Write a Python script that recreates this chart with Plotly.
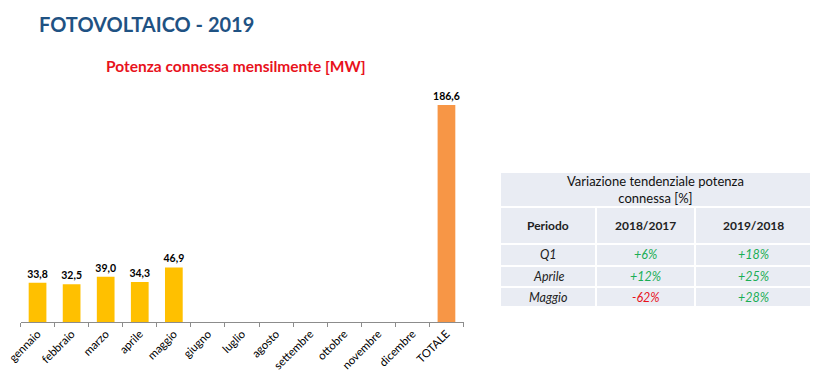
import plotly.graph_objects as go

W, H = 814, 372

months = ["gennaio", "febbraio", "marzo", "aprile", "maggio", "giugno", "luglio",
          "agosto", "settembre", "ottobre", "novembre", "dicembre", "TOTALE"]
values = [33.8, 32.5, 39.0, 34.3, 46.9, None, None, None, None, None, None, None, 186.6]
bar_colors = ["#FFC000"] * 12 + ["#F79646"]

table_title = "Variazione tendenziale potenza<br>connessa [%]"
table_cols = ["Periodo", "2018/2017", "2019/2018"]
periods = ["Q1", "Aprile", "Maggio"]
var_1817 = ["+6%", "+12%", "-62%"]
var_1918 = ["+18%", "+25%", "+28%"]

FONT = "Lato"

def px(x):
    return x / W

def py(y):
    return 1 - y / H

fig = go.Figure()
fig.add_trace(go.Bar(
    x=months, y=values,
    marker=dict(color=bar_colors, line=dict(width=0)),
    texttemplate="<b>%{y:.1f}</b>",
    textposition="outside",
    constraintext="none",
    textfont=dict(family=FONT, size=10.5, color="#000000"),
    cliponaxis=False,
    hoverinfo="skip",
))

shapes = []
annotations = []

# Title and subtitle
annotations.append(dict(x=px(37), y=py(24), xref="paper", yref="paper", xanchor="left", yanchor="middle",
                        text="<b>FOTOVOLTAICO - 2019</b>", showarrow=False,
                        font=dict(family=FONT, size=20, color="#1F5283")))
annotations.append(dict(x=px(235.5), y=py(66), xref="paper", yref="paper", xanchor="center", yanchor="middle",
                        text="<b>Potenza connessa mensilmente [MW]</b>", showarrow=False,
                        font=dict(family=FONT, size=15.5, color="#E8121C")))

# Table geometry (pixels)
col_edges = [500, 596, 695, 811]
row_edges = [172, 207, 244, 266, 287, 307]
bg = "#E9ECF3"

def cell(x0, x1, y0, y1):
    shapes.append(dict(type="rect", xref="paper", yref="paper",
                       x0=px(x0), x1=px(x1), y0=py(y1), y1=py(y0),
                       fillcolor=bg, line=dict(color="#FFFFFF", width=2), layer="below"))

def text(x, y, t, size=11, color="#222222"):
    annotations.append(dict(x=px(x), y=py(y), xref="paper", yref="paper", xanchor="center", yanchor="middle",
                            text=t, showarrow=False, font=dict(family=FONT, size=size, color=color)))

cell(col_edges[0], col_edges[3], row_edges[0], row_edges[1])
text((col_edges[0] + col_edges[3]) / 2, (row_edges[0] + row_edges[1]) / 2, table_title, size=13, color="#111111")
for j, c in enumerate(table_cols):
    cell(col_edges[j], col_edges[j + 1], row_edges[1], row_edges[2])
    text((col_edges[j] + col_edges[j + 1]) / 2, (row_edges[1] + row_edges[2]) / 2, "<b>" + c + "</b>", size=12)

def vcolor(v):
    return "#E8121C" if v.startswith("-") else "#1BAE55"

for i in range(len(periods)):
    y0, y1 = row_edges[i + 2], row_edges[i + 3]
    yc = (y0 + y1) / 2
    row = [(periods[i], "#222222"), (var_1817[i], vcolor(var_1817[i])), (var_1918[i], vcolor(var_1918[i]))]
    for j, (t, colr) in enumerate(row):
        cell(col_edges[j], col_edges[j + 1], y0, y1)
        text((col_edges[j] + col_edges[j + 1]) / 2, yc, "<i>" + t + "</i>", size=12.5, color=colr)

fig.update_layout(
    width=W, height=H,
    margin=dict(l=0, r=0, t=0, b=0, pad=0, autoexpand=False),
    paper_bgcolor="#FFFFFF", plot_bgcolor="#FFFFFF",
    separators=",.",
    showlegend=False,
    bargap=0.48,
    shapes=shapes,
    annotations=annotations,
    xaxis=dict(domain=[px(20.5), px(463.5)], type="category", categoryorder="array", categoryarray=months,
               automargin=False,
               showline=True, linecolor="#8C8C8C", linewidth=1,
               ticks="outside", tickson="boundaries", ticklen=4, tickcolor="#8C8C8C",
               tickangle=-45, tickfont=dict(family=FONT, size=11.3, color="#000000"),
               showgrid=False, zeroline=False, fixedrange=True),
    yaxis=dict(domain=[py(322), py(90)], range=[0, (322 - 90) / 1.163], automargin=False,
               visible=False, showgrid=False, zeroline=False, fixedrange=True),
)

fig.write_html("out.html", config={"responsive": False, "displayModeBar": False})

with open("out.html", "r", encoding="utf-8") as f:
    html = f.read()
html = html.replace("<head>", "<head><style>html,body{margin:0;padding:0;overflow:hidden;}</style>", 1)
with open("out.html", "w", encoding="utf-8") as f:
    f.write(html)
